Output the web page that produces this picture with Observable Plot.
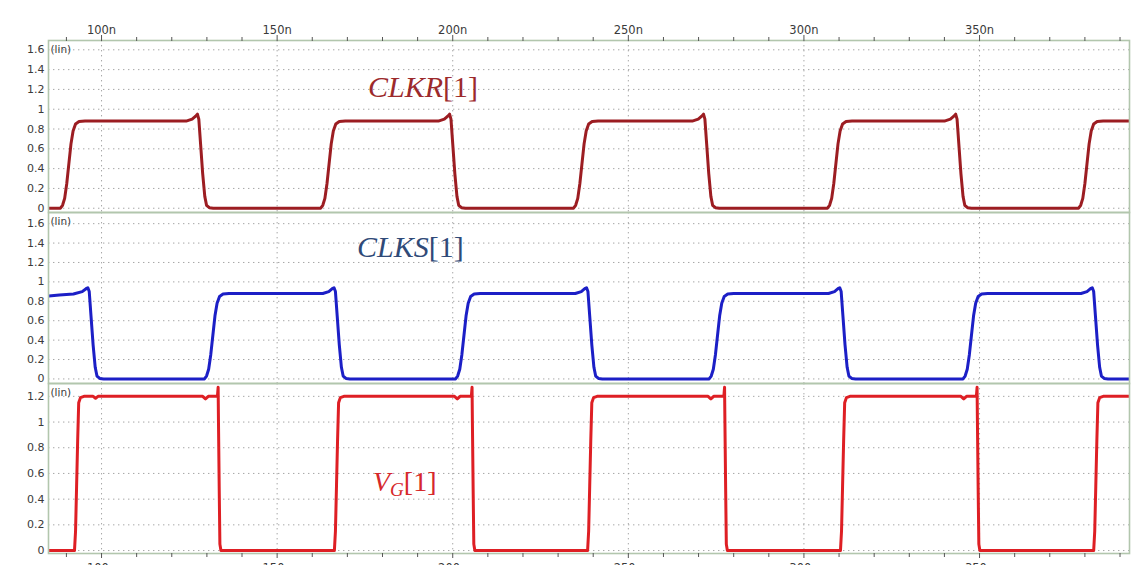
<!DOCTYPE html>
<html><head><meta charset="utf-8">
<script src="https://cdn.jsdelivr.net/npm/d3@7"></script>
<script src="https://cdn.jsdelivr.net/npm/@observablehq/plot@0.6"></script>
<style>
html,body{margin:0;padding:0;background:#fff}
body{width:1131px;height:565px;overflow:hidden;position:relative;font-family:"DejaVu Sans",sans-serif}
#wrap{position:absolute;left:0;top:0;width:1131px}
#wrap svg{display:block;overflow:visible}
#ann{position:absolute;left:0;top:0;pointer-events:none}
</style></head><body>
<div id="wrap"></div>
<svg id="ann" width="1131" height="565"></svg>
<script>
// ---------- data (time in ns, value in V) ----------
const xDomain = [84.9, 392.7];
const xMajorTicks = [100, 150, 200, 250, 300, 350];
const xMinorTicks = [90, 110, 120, 130, 140, 160, 170, 180, 190, 210, 220, 230, 240, 260, 270, 280, 290, 310, 320, 330, 340, 360, 370, 380, 390];
const yTicksClk = [0, 0.2, 0.4, 0.6, 0.8, 1, 1.2, 1.4, 1.6];
const yTicksVg = [0, 0.2, 0.4, 0.6, 0.8, 1, 1.2];
const seriesNames = ["CLKR", "CLKS", "V"];

const clkr = [
 [85,0],[88.3,0],[88.9,0.03],[89.5,0.1],[90.1,0.25],[90.7,0.45],[91.3,0.65],[91.9,0.78],[92.6,0.85],[93.6,0.875],[95.3,0.88],
 [124.1,0.88],[125.8,0.9],[126.8,0.93],[127.3,0.95],[127.7,0.9],[128.2,0.65],[128.8,0.35],[129.4,0.12],[129.9,0.03],[130.7,0.005],[131.8,0],
 [162.4,0],[163,0.03],[163.6,0.1],[164.2,0.25],[164.8,0.45],[165.4,0.65],[166,0.78],[166.7,0.85],[167.7,0.875],[169.4,0.88],
 [195.9,0.88],[197.6,0.9],[198.6,0.93],[199.1,0.95],[199.5,0.9],[200,0.65],[200.6,0.35],[201.2,0.12],[201.7,0.03],[202.5,0.005],[203.6,0],
 [234.4,0],[235,0.03],[235.6,0.1],[236.2,0.25],[236.8,0.45],[237.4,0.65],[238,0.78],[238.7,0.85],[239.7,0.875],[241.4,0.88],
 [268.2,0.88],[269.9,0.9],[270.9,0.93],[271.4,0.95],[271.8,0.9],[272.3,0.65],[272.9,0.35],[273.5,0.12],[274,0.03],[274.8,0.005],[275.9,0],
 [306.7,0],[307.3,0.03],[307.9,0.1],[308.5,0.25],[309.1,0.45],[309.7,0.65],[310.3,0.78],[311,0.85],[312,0.875],[313.7,0.88],
 [340,0.88],[341.7,0.9],[342.7,0.93],[343.2,0.95],[343.6,0.9],[344.1,0.65],[344.7,0.35],[345.3,0.12],[345.8,0.03],[346.6,0.005],[347.7,0],
 [378.2,0],[378.8,0.03],[379.4,0.1],[380,0.25],[380.6,0.45],[381.2,0.65],[381.8,0.78],[382.5,0.85],[383.5,0.875],[385.2,0.88],[393,0.88]
];

const clks = [
 [85,0.855],[88,0.865],[92,0.875],[94.5,0.9],[95.6,0.93],[96.1,0.94],[96.5,0.9],[97,0.65],[97.6,0.35],[98.2,0.12],[98.7,0.03],[99.5,0.005],[100.6,0],
 [129.3,0],[129.9,0.03],[130.5,0.1],[131.1,0.25],[131.7,0.45],[132.3,0.65],[132.9,0.78],[133.6,0.85],[134.6,0.875],[136.3,0.88],
 [163,0.88],[164.7,0.9],[165.7,0.93],[166.2,0.94],[166.6,0.9],[167.1,0.65],[167.7,0.35],[168.3,0.12],[168.8,0.03],[169.6,0.005],[170.7,0],
 [200.8,0],[201.4,0.03],[202,0.1],[202.6,0.25],[203.2,0.45],[203.8,0.65],[204.4,0.78],[205.1,0.85],[206.1,0.875],[207.8,0.88],
 [234.9,0.88],[236.6,0.9],[237.6,0.93],[238.1,0.94],[238.5,0.9],[239,0.65],[239.6,0.35],[240.2,0.12],[240.7,0.03],[241.5,0.005],[242.6,0],
 [273,0],[273.6,0.03],[274.2,0.1],[274.8,0.25],[275.4,0.45],[276,0.65],[276.6,0.78],[277.3,0.85],[278.3,0.875],[280,0.88],
 [307,0.88],[308.7,0.9],[309.7,0.93],[310.2,0.94],[310.6,0.9],[311.1,0.65],[311.7,0.35],[312.3,0.12],[312.8,0.03],[313.6,0.005],[314.7,0],
 [345.3,0],[345.9,0.03],[346.5,0.1],[347.1,0.25],[347.7,0.45],[348.3,0.65],[348.9,0.78],[349.6,0.85],[350.6,0.875],[352.3,0.88],
 [378.9,0.88],[380.6,0.9],[381.6,0.93],[382.1,0.94],[382.5,0.9],[383,0.65],[383.6,0.35],[384.2,0.12],[384.7,0.03],[385.5,0.005],[386.6,0],[393,0]
];

const vg = [
 [85,0],[92.3,0],[92.6,0.15],[92.9,0.5],[93.2,0.85],[93.5,1.15],[94,1.19],[95,1.2],[97.6,1.2],[98.3,1.185],[99,1.2],
 [128.8,1.2],[129.6,1.18],[130.4,1.2],[133,1.2],[133.2,1.27],[133.3,1.0],[133.5,0.5],[133.7,0.05],[134,0],
 [166.3,0],[166.6,0.15],[166.9,0.5],[167.2,0.85],[167.5,1.15],[168,1.19],[169,1.2],
 [200.5,1.2],[201.3,1.18],[202.1,1.2],[205.3,1.2],[205.5,1.27],[205.6,1.0],[205.8,0.5],[206,0.05],[206.3,0],
 [238.4,0],[238.7,0.15],[239,0.5],[239.3,0.85],[239.6,1.15],[240.1,1.19],[241.1,1.2],
 [272.7,1.2],[273.5,1.18],[274.3,1.2],[277.2,1.2],[277.4,1.27],[277.5,1.0],[277.7,0.5],[277.9,0.05],[278.2,0],
 [310.4,0],[310.7,0.15],[311,0.5],[311.3,0.85],[311.6,1.15],[312.1,1.19],[313.1,1.2],
 [344.7,1.2],[345.5,1.18],[346.3,1.2],[349.1,1.2],[349.3,1.27],[349.4,1.0],[349.6,0.5],[349.8,0.05],[350.1,0],
 [382.5,0],[382.8,0.15],[383.1,0.5],[383.4,0.85],[383.7,1.15],[384.2,1.19],[385.2,1.2],[393,1.2]
];

// ---------- styling ----------
const W = 1131, ML = 48, MR = 2;
const frameColor = "#b2c6ad";
const gridStyle = {stroke: "#9c9c9c", strokeOpacity: 0.9, strokeWidth: 1, strokeDasharray: "1.4,3.6"};
const txtColor = "#3a3a3a";
const yFmt = d => String(+d.toFixed(1));

function panel({data, color, yDomain, yTicks, height, marginTop, marginBottom, top, bottom}) {
  const marks = [
    Plot.gridY(yTicks, gridStyle),
    Plot.gridX(xMajorTicks, gridStyle),
    Plot.line(data, {x: d => d[0], y: d => d[1], stroke: color, strokeWidth: 3, clip: true, strokeLinejoin: "round"}),
    Plot.frame({stroke: frameColor, strokeWidth: 1.6}),
    Plot.axisY(yTicks, {anchor: "left", tickSize: 0, tickPadding: 4, tickFormat: yFmt, fontSize: 11, fill: txtColor}),
    Plot.text(["(lin)"], {frameAnchor: "top-left", dx: 2, dy: 9, textAnchor: "start", lineAnchor: "middle", fontSize: 10.5, fill: txtColor})
  ];
  if (top) {
    marks.push(Plot.axisX(xMinorTicks, {anchor: "top", tickSize: 4, tickFormat: () => "", stroke: "#555"}));
    marks.push(Plot.axisX(xMajorTicks, {anchor: "top", tickSize: 6, tickPadding: 1, tickFormat: d => d + "n", fontSize: 11.5, fill: txtColor, stroke: "#555"}));
  }
  if (bottom) {
    marks.push(Plot.axisX(xMinorTicks, {anchor: "bottom", tickSize: 4, tickFormat: () => "", stroke: "#555"}));
    marks.push(Plot.axisX(xMajorTicks, {anchor: "bottom", tickSize: 5, tickPadding: 5, tickFormat: d => d + "n", fontSize: 11.5, fill: txtColor, stroke: "#555"}));
  }
  return Plot.plot({
    width: W, height, marginLeft: ML, marginRight: MR, marginTop, marginBottom,
    x: {domain: xDomain, axis: null},
    y: {domain: yDomain, axis: null},
    style: {background: "transparent", fontFamily: "DejaVu Sans, sans-serif"},
    marks
  });
}

const wrap = document.getElementById("wrap");
wrap.append(panel({data: clkr, color: "#9c1d22", yDomain: [-0.043, 1.694], yTicks: yTicksClk, height: 212, marginTop: 40, marginBottom: 0, top: true}));
wrap.append(panel({data: clks, color: "#1c1fc6", yDomain: [-0.047, 1.715], yTicks: yTicksClk, height: 171, marginTop: 0, marginBottom: 0}));
wrap.append(panel({data: vg, color: "#de1f24", yDomain: [-0.023, 1.30], yTicks: yTicksVg, height: 200, marginTop: 0, marginBottom: 30, bottom: true}));

// ---------- signal name annotations ----------
const ann = d3.select("#ann");
function label(x, y, color, size, parts) {
  const t = ann.append("text").attr("x", x).attr("y", y).attr("fill", color)
    .attr("font-family", "Liberation Serif, DejaVu Serif, serif").attr("font-size", size);
  parts.forEach(p => {
    const s = t.append("tspan").text(p.text);
    if (p.italic) s.attr("font-style", "italic");
    if (p.sub) s.attr("font-size", size * 0.68).attr("baseline-shift", "-28%");
  });
}
label(368, 96.5, "#9c2a2c", 30, [{text: seriesNames[0], italic: true}, {text: "[1]"}]);
label(357, 256.5, "#2f4a78", 30, [{text: seriesNames[1], italic: true}, {text: "[1]"}]);
label(373, 491, "#d6282b", 28, [{text: seriesNames[2], italic: true}, {text: "G", italic: true, sub: true}, {text: "[1]"}]);
</script>
</body></html>
